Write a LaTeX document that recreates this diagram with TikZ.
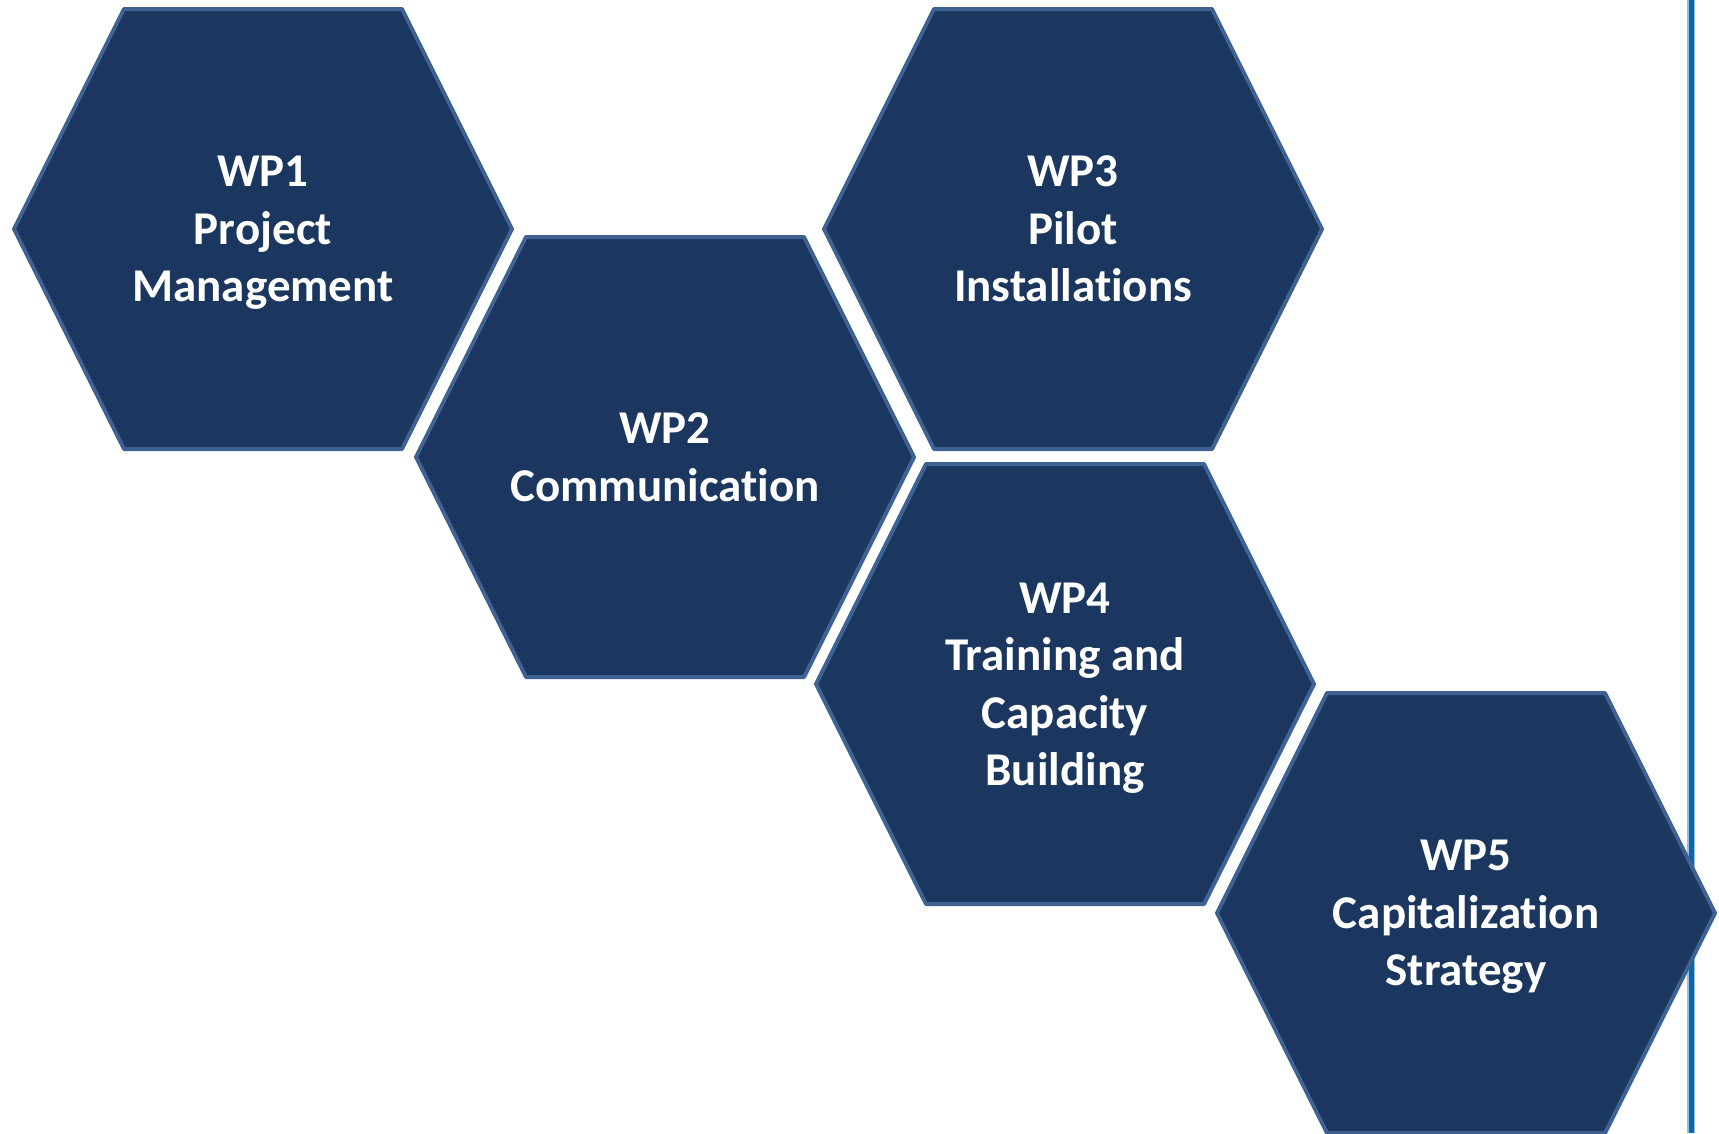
\documentclass[tikz,border=0pt]{standalone}
\usepackage{fontspec}
\setmainfont{Carlito}[Ligatures=NoCommon]
\usetikzlibrary{positioning}

\definecolor{hexfill}{RGB}{27,55,95}
\definecolor{hexedge}{RGB}{62,98,146}
\definecolor{barblue}{RGB}{10,104,168}
\definecolor{barhalo}{RGB}{150,190,222}

\begin{document}
\begin{tikzpicture}[
    x = 1pt, y = 1pt, % one unit per pixel
    wplabel/.style = {text = white, align = center, inner sep = 0pt,
      text depth = 0pt, font = \bfseries\fontsize{47}{57.5}\selectfont},
    bar/.style = {barblue, line width = 5pt}
    ]

    \tikzset{wphex/.pic={
      \draw[hexedge, fill = hexfill, line width = 4pt, line join = round]
        (-249,0) -- (-139,220) -- (139,220) -- (249,0)
        -- (139,-220) -- (-139,-220) -- cycle;
    }}

    \useasboundingbox (0,0) rectangle (1719,-1133);

    % vertical rule on the right, behind the hexagons
    \coordinate (bartop) at (1691,0);
    \coordinate (barbot) at (1691,-1133);
    \draw[barhalo, line width = 8pt] (bartop) -- (barbot);
    \draw[bar] (bartop) -- (barbot);

    \coordinate (c1) at (263,-229);
    \coordinate[below right = 228pt and 402pt of c1] (c2);
    \coordinate[above right = 228pt and 408pt of c2] (c3);
    \coordinate[below right = 227pt and 400pt of c2] (c4);
    \coordinate[below right = 229pt and 401pt of c4] (c5);

    \pic at (c1) {wphex};
    \pic at (c2) {wphex};
    \pic at (c3) {wphex};
    \pic at (c4) {wphex};
    \pic at (c5) {wphex};

    \node[wplabel] (wp1) at (c1) {WP1\\Project\\Management};
    \node[wplabel] (wp2) at (c2) {WP2\\Communication};
    \node[wplabel] (wp3) at (c3) {WP3\\Pilot\\Installations};
    \node[wplabel] (wp4) at (c4) {WP4\\Training and\\Capacity\\Building};
    \node[wplabel] (wp5) at (c5) {WP5\\Capitalization\\Strategy};
\end{tikzpicture}
\end{document}
